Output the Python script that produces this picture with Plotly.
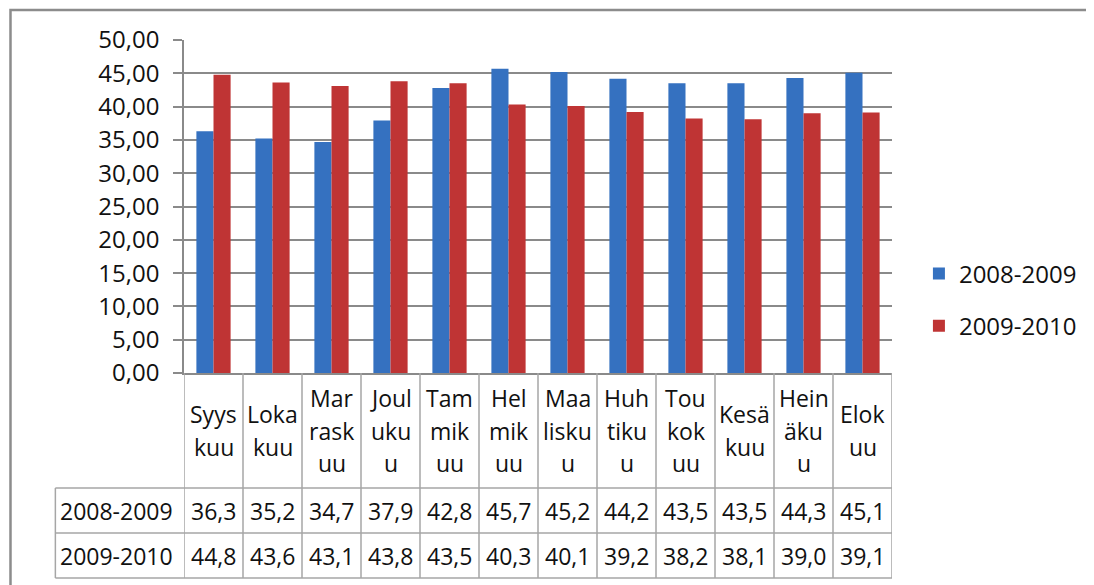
import plotly.graph_objects as go

# ---- data ----
month_lines = [["Syys", "kuu"], ["Loka", "kuu"], ["Mar", "rask", "uu"], ["Joul", "uku", "u"],
               ["Tam", "mik", "uu"], ["Hel", "mik", "uu"], ["Maa", "lisku", "u"], ["Huh", "tiku", "u"],
               ["Tou", "kok", "uu"], ["Kesä", "kuu"], ["Hein", "äku", "u"], ["Elok", "uu"]]
series_names = ["2008-2009", "2009-2010"]
values_0809 = [36.3, 35.2, 34.7, 37.9, 42.8, 45.7, 45.2, 44.2, 43.5, 43.5, 44.3, 45.1]
values_0910 = [44.8, 43.6, 43.1, 43.8, 43.5, 40.3, 40.1, 39.2, 38.2, 38.1, 39.0, 39.1]
y_ticks = [0, 5, 10, 15, 20, 25, 30, 35, 40, 45, 50]

colors = ["#3571C0", "#BF3434"]
FONT = "Open Sans"
FS = 23
TXT = "#111111"
GRID = "#8a8a8a"
TBL = "#a6a6a6"

OFF = 8  # page body margin
W, H = 1094 - OFF, 585 - OFF
# reference screen px -> figure px
L, R, T, B = 184 - OFF, 894 - OFF, 40 - OFF, 373 - OFF
pw, ph = R - L, B - T
n = len(month_lines)

def px_x(x):
    return (x - OFF - L) / pw

def px_y(y):
    return (B - (y - OFF)) / ph

xs = list(range(n))
fig = go.Figure()
for name, vals, c in zip(series_names, [values_0809, values_0910], colors):
    fig.add_trace(go.Bar(x=xs, y=vals, name=name, marker=dict(color=c, line=dict(width=0)),
                         legendgroup=name))

shapes = []
# outer border
shapes.append(dict(type="rect", xref="paper", yref="paper", x0=px_x(10), x1=px_x(1120),
                   y0=px_y(10), y1=px_y(610), line=dict(color="#8c8c8c", width=2.5)))
# table lines (reference screen px)
row1_top, row2_top, row2_bot = 488, 533, 578
for k in range(n + 1):
    shapes.append(dict(type="line", xref="x", yref="paper", x0=k - 0.5, x1=k - 0.5,
                       y0=0, y1=px_y(row2_bot), line=dict(color=TBL, width=1.5)))
shapes.append(dict(type="line", xref="paper", yref="paper", x0=px_x(55), x1=px_x(55),
                   y0=px_y(row1_top), y1=px_y(row2_bot), line=dict(color=TBL, width=1.5)))
for yy in [row1_top, row2_top, row2_bot]:
    shapes.append(dict(type="line", xref="paper", yref="paper", x0=px_x(55), x1=1,
                       y0=px_y(yy), y1=px_y(yy), line=dict(color=TBL, width=1.5)))

ann = []
# header labels
hc = (373 + row1_top) / 2
for i, lines in enumerate(month_lines):
    m = len(lines)
    for j, t in enumerate(lines):
        yc = hc + (j - (m - 1) / 2) * 32
        ann.append(dict(x=i, y=px_y(yc), xref="x", yref="paper", text=t, showarrow=False,
                        xanchor="center", yanchor="middle", font=dict(family=FONT, size=FS, color=TXT)))
# value rows
for r, (name, vals) in enumerate(zip(series_names, [values_0809, values_0910])):
    yc = (row1_top + row2_top) / 2 if r == 0 else (row2_top + row2_bot) / 2
    ann.append(dict(x=px_x(58), y=px_y(yc), xref="paper", yref="paper", text=name, showarrow=False,
                    xanchor="left", yanchor="middle", font=dict(family=FONT, size=FS, color=TXT)))
    for i, v in enumerate(vals):
        ann.append(dict(x=i, y=px_y(yc), xref="x", yref="paper", text=f"{v:.1f}".replace(".", ","),
                        showarrow=False, xanchor="center", yanchor="middle",
                        font=dict(family=FONT, size=FS, color=TXT)))

fig.update_layout(
    width=W, height=H,
    margin=dict(l=L, r=W - R, t=T, b=H - B, pad=0),
    paper_bgcolor="white", plot_bgcolor="white",
    barmode="group", bargap=0.42, bargroupgap=0,
    separators=",.",
    font=dict(family=FONT, size=FS, color=TXT),
    showlegend=True,
    legend=dict(x=px_x(921), y=px_y(300), xanchor="left", yanchor="middle",
                font=dict(family=FONT, size=24, color=TXT), tracegroupgap=18,
                bgcolor="rgba(0,0,0,0)"),
    xaxis=dict(range=[-0.5, n - 0.5], showticklabels=False, showgrid=False, zeroline=False,
               showline=True, linecolor=GRID, linewidth=1.5, ticks=""),
    yaxis=dict(range=[0, 50], tickvals=y_ticks, tickformat=".2f", showgrid=True, gridcolor=GRID,
               gridwidth=1.5, zeroline=False, showline=True, linecolor=GRID, linewidth=1.5,
               ticks="outside", ticklen=9, tickcolor=GRID, tickwidth=1.5,
               ticklabelstandoff=9, tickfont=dict(family=FONT, size=24, color=TXT)),
    shapes=shapes, annotations=ann,
)
fig.write_html("out.html")
